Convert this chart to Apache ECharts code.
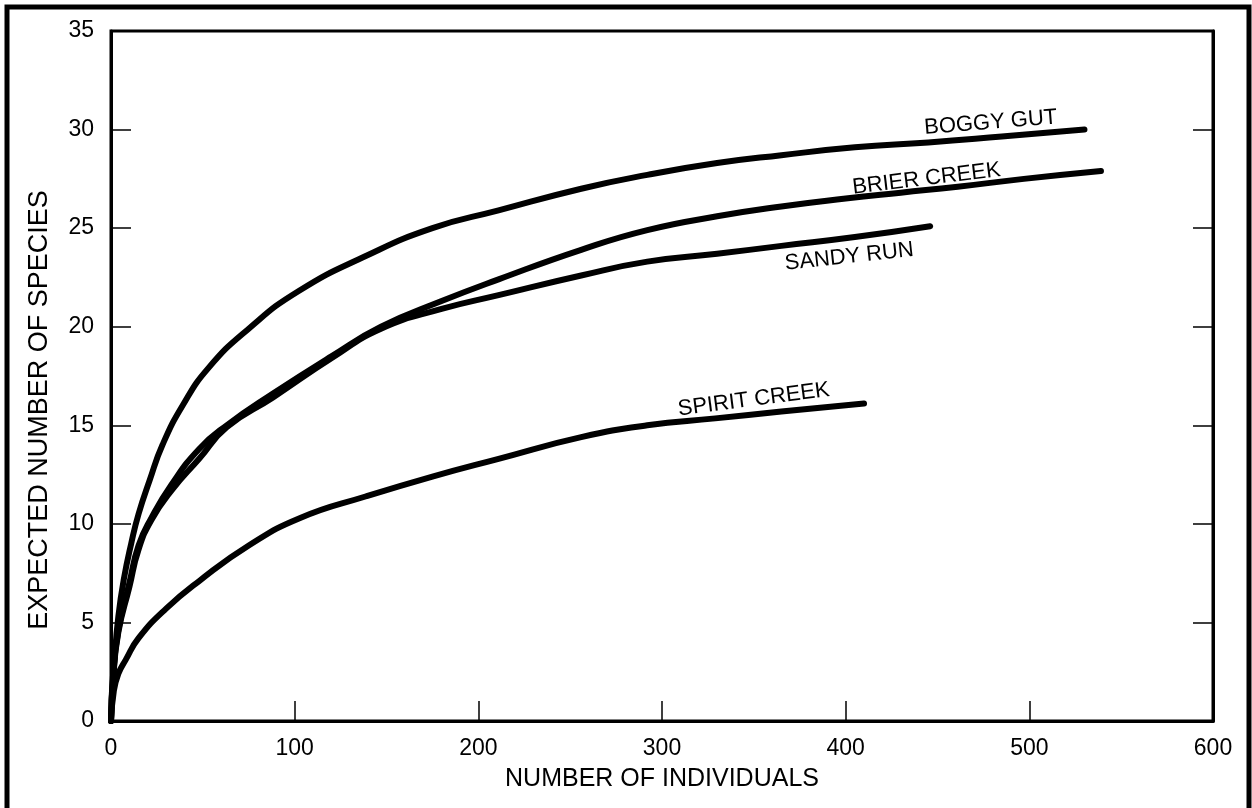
<!DOCTYPE html>
<html><head><meta charset="utf-8">
<script src="https://cdn.jsdelivr.net/npm/echarts@6/dist/echarts.min.js"></script>
<style>html,body{margin:0;padding:0;background:#fff}#c{width:1252px;height:808px}</style>
</head><body><div id="c"></div>
<script>
// ---- data (number of individuals, expected number of species) ----
const boggyGut = [[0,0],[2,3.2],[4,5.3],[7,7.2],[11,9.0],[15,10.5],[21,12.2],[28,14.0],[39,16.0],[53,17.9],[75,19.9],[102,21.8],[139,23.6],[175,25.0],[211,25.9],[256,27.0],[292,27.7],[330,28.3],[365,28.7],[405,29.1],[445,29.35],[485,29.65],[530,30.0]];
const brierCreek = [[0,0],[1,2.2],[4,4.6],[10,7.0],[15,8.9],[22,10.3],[33,12.0],[48,13.8],[63,15.0],[88,16.6],[120,18.5],[147,20.0],[180,21.3],[211,22.4],[256,23.9],[292,24.9],[330,25.6],[365,26.1],[400,26.5],[430,26.8],[461,27.1],[497,27.5],[539,27.9]];
const sandyRun = [[0,0],[1,2.0],[4,4.5],[10,6.8],[15,8.7],[22,10.2],[33,11.7],[48,13.3],[63,14.9],[88,16.4],[120,18.4],[147,19.9],[180,20.9],[211,21.6],[256,22.6],[292,23.3],[330,23.7],[365,24.1],[405,24.55],[446,25.1]];
const spiritCreek = [[0,0],[1.5,1.5],[4,2.4],[8,3.1],[15,4.2],[30,5.7],[48,7.1],[75,8.9],[103,10.3],[139,11.4],[175,12.4],[211,13.3],[256,14.4],[292,15.0],[329,15.35],[365,15.7],[410,16.1]];
const seriesNames = ['BOGGY GUT','BRIER CREEK','SANDY RUN','SPIRIT CREEK'];
const labelCoords = [[479,30.35],[444,27.5],[402,23.55],[350,16.3]];
const labelAngles = [4.6,6.9,6.3,7.4];
const xRange = [0,600], xStep = 100;
const yRange = [0,35], yStep = 5;
const xTitle = 'NUMBER OF INDIVIDUALS';
const yTitle = 'EXPECTED NUMBER OF SPECIES';

const FONT = "'Liberation Sans', Arial, Helvetica, sans-serif";
const chart = echarts.init(document.getElementById('c'), null, {renderer:'canvas'});
const allData = [boggyGut, brierCreek, sandyRun, spiritCreek];
const series = allData.map((d,i)=>({
  type:'line', name: seriesNames[i], data:d, showSymbol:false, symbol:'none',
  smooth:0.5,
  lineStyle:{color:'#000', width:6, cap:'round', join:'round'},
  z: 3, animation:false,
  markPoint:{
    symbol:'circle', symbolSize:0, silent:true, animation:false,
    data:[{coord: labelCoords[i]}],
    label:{show:true, position:'inside', formatter: seriesNames[i], rotate: labelAngles[i],
      color:'#000', fontSize:22, fontFamily:FONT}
  }
}));
const tickStyle = {show:true, inside:true, length:20, lineStyle:{color:'#000', width:1.5}};
chart.setOption({
  backgroundColor:'#fff',
  animation:false,
  grid:{left:111, right:39, top:31, bottom:87, show:true, borderColor:'#000', borderWidth:3, backgroundColor:'transparent'},
  xAxis:[{type:'value', min:xRange[0], max:xRange[1], interval:xStep, position:'bottom',
    axisLine:{show:true, onZero:false, lineStyle:{color:'#000', width:3}},
    axisTick: tickStyle, splitLine:{show:false},
    axisLabel:{color:'#000', fontSize:23, fontFamily:FONT, margin:16, showMinLabel:true, showMaxLabel:true},
    name:xTitle, nameLocation:'middle', nameGap:46,
    nameTextStyle:{color:'#000', fontSize:25, fontFamily:FONT}
  }],
  yAxis:[{type:'value', min:yRange[0], max:yRange[1], interval:yStep, position:'left',
    axisLine:{show:true, onZero:false, lineStyle:{color:'#000', width:3}},
    axisTick: tickStyle, splitLine:{show:false},
    axisLabel:{color:'#000', fontSize:23, fontFamily:FONT, margin:17},
    name:yTitle, nameLocation:'middle', nameGap:58,
    nameTextStyle:{color:'#000', fontSize:27, fontFamily:FONT, padding:[0,68,0,0]}
  },{type:'value', min:yRange[0], max:yRange[1], interval:yStep, position:'right',
    axisLine:{show:true, onZero:false, lineStyle:{color:'#000', width:3}},
    axisTick: tickStyle, splitLine:{show:false}, axisLabel:{show:false}
  }],
  graphic:[{type:'rect', shape:{x:7, y:7, width:1242, height:820}, style:{fill:'none', stroke:'#000', lineWidth:5}, z:100, silent:true}],
  series: series
});
</script></body></html>
